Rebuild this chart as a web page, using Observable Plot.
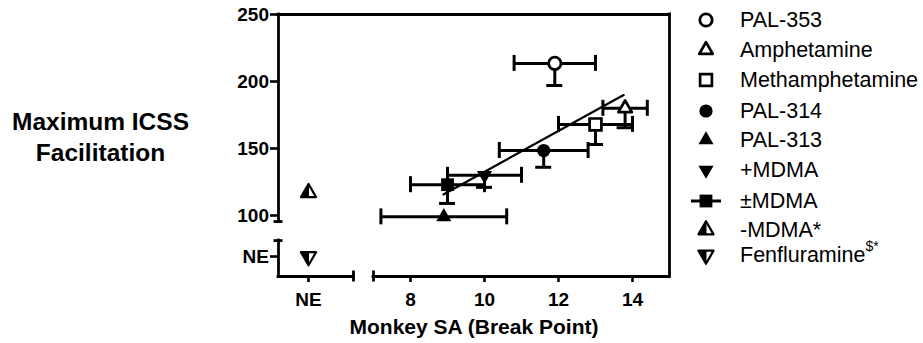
<!DOCTYPE html>
<html><head><meta charset="utf-8">
<script src="https://cdn.jsdelivr.net/npm/d3@7"></script>
<script src="https://cdn.jsdelivr.net/npm/@observablehq/plot@0.6"></script>
<style>
body{margin:0;background:#fff;}
#wrap{position:relative;width:923px;height:343px;font-family:"Liberation Sans",Arial,Helvetica,sans-serif;background:#fff;}
#wrap > svg{position:absolute;left:0;top:0;}
.row{position:absolute;left:689px;height:26px;display:flex;align-items:center;font-size:21.5px;color:#000;white-space:nowrap;}
.row svg{width:34px;height:26px;margin-right:17px;flex:none;}
.row sup{font-size:14px;position:relative;top:-3px;}
</style></head><body><div id="wrap"></div>
<script>
// ---- data ----
const drugs = ["PAL-353", "Amphetamine", "Methamphetamine", "PAL-314", "PAL-313", "+MDMA", "±MDMA"];
const saBreakPoint = [11.9, 13.8, 13.0, 11.6, 8.9, 10.0, 9.0];
const saLow = [10.8, 13.2, 12.0, 10.4, 7.2, 9.0, 8.0];
const saHigh = [13.0, 14.4, 14.0, 12.8, 10.6, 11.0, 10.0];
const icssMax = [213.5, 180, 168, 148.5, 99, 130, 123];
const icssLow = [197, 165.5, 153, 136, null, 121, 109];
const drugSymbols = ["circleOpen", "triUpOpen", "squareOpen", "circle", "triUp", "triDown", "square"];

const neDrugs = ["-MDMA*", "Fenfluramine"];
const neIcss = [117, "NE"];
const neSymbols = ["halfUp", "halfDown"];

const fitX = [8.89, 13.76];
const fitY = [115.7, 189.9];

const xTicks = ["NE", 8, 10, 12, 14];
const yTicks = [250, 200, 150, 100, "NE"];

const legendNames = ["PAL-353", "Amphetamine", "Methamphetamine", "PAL-314", "PAL-313", "+MDMA", "±MDMA", "-MDMA*", "Fenfluramine"];
const legendSymbols = ["circleOpen", "triUpOpen", "squareOpen", "circle", "triUp", "triDown", "squareBar", "halfUp", "halfDown"];

// ---- broken-axis layout (axis values) ----
const X_MIN = 4.432, X_MAX = 15, NE_X = 5.243, X_BREAK_LO = 6.459, X_BREAK_HI = 7;
const Y_MIN = 54.48, Y_MAX = 250, NE_Y = 69.4, Y_BREAK_HI = 95.5, Y_BREAK_LO = 81.3;
const px = v => v === "NE" ? NE_X : v;
const py = v => v === "NE" ? NE_Y : v;

// ---- custom symbols (size = pi r^2) ----
const S3 = Math.sqrt(3);
const rOf = size => Math.sqrt(size / Math.PI);
function triangle(down, half) {
  return {draw(ctx, size) {
    const s = 2.7 * rOf(size), h = s * S3 / 2, k = down ? -1 : 1;
    const top = -k * 2 * h / 3, bot = k * h / 3;
    ctx.moveTo(0, top);
    if (half) { ctx.lineTo(-s / 2, bot); ctx.lineTo(0, bot); }
    else { ctx.lineTo(s / 2, bot); ctx.lineTo(-s / 2, bot); }
    ctx.closePath();
  }};
}
const circleSym = {draw(ctx, size) { const r = rOf(size); ctx.moveTo(r, 0); ctx.arc(0, 0, r, 0, 2 * Math.PI); }};
const squareSym = {draw(ctx, size) { const r = rOf(size); ctx.rect(-r, -r, 2 * r, 2 * r); }};

const styles = {
  circleOpen: [{symbol: circleSym, r: 6.2, fill: "white", stroke: "black", strokeWidth: 2.8}],
  triUpOpen: [{symbol: triangle(false, false), r: 5.0, fill: "white", stroke: "black", strokeWidth: 2.7, strokeLinejoin: "round"}],
  squareOpen: [{symbol: squareSym, r: 5.9, fill: "white", stroke: "black", strokeWidth: 2.7}],
  circle: [{symbol: circleSym, r: 6.6, fill: "black", stroke: "none"}],
  triUp: [{symbol: triangle(false, false), r: 5.6, fill: "black", stroke: "none"}],
  triDown: [{symbol: triangle(true, false), r: 5.6, fill: "black", stroke: "none"}],
  square: [{symbol: squareSym, r: 6.4, fill: "black", stroke: "none"}],
  squareBar: [{symbol: squareSym, r: 6.4, fill: "black", stroke: "none"}],
  halfUp: [{symbol: triangle(false, false), r: 5.6, fill: "white", stroke: "black", strokeWidth: 2.2, strokeLinejoin: "round"},
           {symbol: triangle(false, true), r: 5.6, fill: "black", stroke: "black", strokeWidth: 1, strokeLinejoin: "round"}],
  halfDown: [{symbol: triangle(true, false), r: 5.6, fill: "white", stroke: "black", strokeWidth: 2.2, strokeLinejoin: "round"},
             {symbol: triangle(true, true), r: 5.6, fill: "black", stroke: "black", strokeWidth: 1, strokeLinejoin: "round"}]
};

// ---- tables ----
const rows = drugs.map((d, i) => ({drug: d, x: saBreakPoint[i], y: icssMax[i], xLo: saLow[i], xHi: saHigh[i], yLo: icssLow[i], sym: drugSymbols[i]}));
const neRows = neDrugs.map((d, i) => ({drug: d, x: NE_X, y: py(neIcss[i]), sym: neSymbols[i]}));
const fit = fitX.map((x, i) => ({x, y: fitY[i]}));

const ink = "black";
const EB = 3, CAP = -8, AX = 2.8;

const markerMarks = [...rows, ...neRows].flatMap(r =>
  styles[r.sym].map(st => Plot.dot([r], {x: "x", y: "y", ...st})));

const chart = Plot.plot({
  width: 923, height: 343,
  marginLeft: 278, marginRight: 254, marginTop: 14, marginBottom: 67,
  style: {fontFamily: '"Liberation Sans", Arial, Helvetica, sans-serif', color: ink, background: "white", overflow: "visible"},
  x: {type: "linear", domain: [X_MIN, X_MAX]},
  y: {type: "linear", domain: [Y_MIN, Y_MAX]},
  marks: [
    // frame & broken axes
    Plot.ruleY([Y_MAX], {x1: X_MIN, x2: X_MAX, stroke: ink, strokeWidth: AX, strokeLinecap: "square"}),
    Plot.ruleX([X_MAX], {y1: Y_MIN, y2: Y_MAX, stroke: ink, strokeWidth: AX, strokeLinecap: "square"}),
    Plot.ruleX([X_MIN], {y1: Y_BREAK_HI, y2: Y_MAX, stroke: ink, strokeWidth: AX, strokeLinecap: "square"}),
    Plot.ruleX([X_MIN], {y1: Y_MIN, y2: Y_BREAK_LO, stroke: ink, strokeWidth: AX, strokeLinecap: "square"}),
    Plot.ruleY([Y_MIN], {x1: X_MIN, x2: X_BREAK_LO, stroke: ink, strokeWidth: AX, strokeLinecap: "square"}),
    Plot.ruleY([Y_MIN], {x1: X_BREAK_HI, x2: X_MAX, stroke: ink, strokeWidth: AX, strokeLinecap: "square"}),
    Plot.ruleY([Y_BREAK_HI, Y_BREAK_LO], {x1: X_MIN, x2: X_MIN, insetLeft: -4.5, insetRight: -4.5, stroke: ink, strokeWidth: AX}),
    Plot.ruleX([X_BREAK_LO, X_BREAK_HI], {y1: Y_MIN, y2: Y_MIN, insetTop: -5.5, insetBottom: -5.5, stroke: ink, strokeWidth: AX}),
    Plot.axisX({ticks: xTicks.map(px), tickFormat: v => v === NE_X ? "NE" : String(v), tickSize: 6, tickPadding: 9.5, fontSize: 19, fontWeight: "bold", strokeWidth: 2.6, label: null}),
    Plot.axisY({ticks: yTicks.map(py), tickFormat: v => v === NE_Y ? "NE" : String(v), tickSize: 8, tickPadding: 1.5, fontSize: 19, fontWeight: "bold", strokeWidth: 2.6, label: null}),
    Plot.text(["Monkey SA (Break Point)"], {frameAnchor: "bottom", dy: 51, lineAnchor: "middle", fontSize: 21, fontWeight: "bold", fill: ink}),
    Plot.text(["Maximum ICSS\nFacilitation"], {frameAnchor: "left", dx: -178, dy: -10, textAnchor: "middle", lineAnchor: "middle", lineHeight: 1.28, fontSize: 24.5, fontWeight: "bold", fill: ink}),
    // error bars
    Plot.ruleY(rows, {y: "y", x1: "xLo", x2: "xHi", stroke: ink, strokeWidth: EB}),
    Plot.ruleX(rows, {x: "xLo", y1: "y", y2: "y", insetTop: CAP, insetBottom: CAP, stroke: ink, strokeWidth: EB}),
    Plot.ruleX(rows, {x: "xHi", y1: "y", y2: "y", insetTop: CAP, insetBottom: CAP, stroke: ink, strokeWidth: EB}),
    Plot.ruleX(rows.filter(r => r.yLo != null), {x: "x", y1: "y", y2: "yLo", stroke: ink, strokeWidth: EB}),
    Plot.ruleY(rows.filter(r => r.yLo != null), {y: "yLo", x1: "x", x2: "x", insetLeft: CAP, insetRight: CAP, stroke: ink, strokeWidth: EB}),
    // regression line
    Plot.line(fit, {x: "x", y: "y", stroke: ink, strokeWidth: 2.2}),
    ...markerMarks
  ]
});
document.getElementById("wrap").appendChild(chart);

// ---- legend ----
const legendY = [20, 50, 80, 111, 140, 170, 201, 230, 255];
const wrap = d3.select("#wrap");
legendNames.forEach((name, i) => {
  const row = wrap.append("div").attr("class", "row").style("top", (legendY[i] - 13) + "px");
  const svg = row.append("svg").attr("viewBox", "-17 -13 34 26");
  const key = legendSymbols[i];
  if (key === "squareBar") svg.append("line").attr("x1", -15).attr("x2", 15).attr("stroke", ink).attr("stroke-width", 3);
  for (const st of styles[key]) {
    const p = d3.path();
    st.symbol.draw(p, Math.PI * st.r * st.r);
    svg.append("path").attr("d", p.toString())
      .attr("fill", st.fill).attr("stroke", st.stroke)
      .attr("stroke-width", st.strokeWidth || 0).attr("stroke-linejoin", st.strokeLinejoin || "miter");
  }
  const label = row.append("span").text(name);
  if (name === "Fenfluramine") label.append("sup").text("$*");
});
</script></body></html>
